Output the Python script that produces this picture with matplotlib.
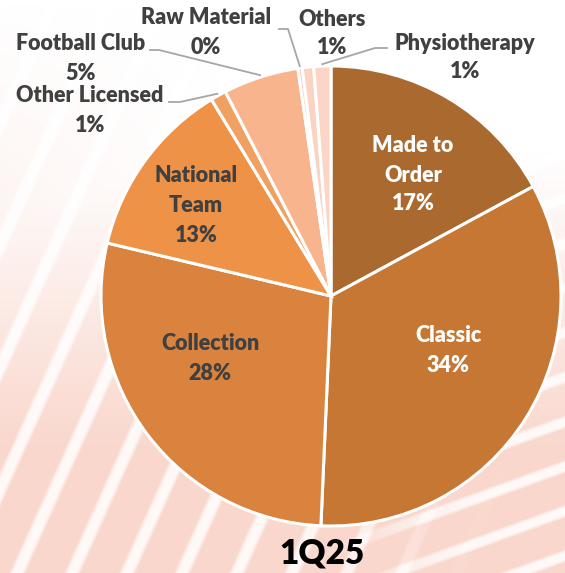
import numpy as np
import matplotlib
matplotlib.use("Agg")
import matplotlib.pyplot as plt
from matplotlib.colors import to_rgb

categories = [
    "Made to Order",
    "Classic",
    "Collection",
    "National Team",
    "Other Licensed",
    "Football Club",
    "Raw Material",
    "Others",
    "Physiotherapy",
]
shares = [17.1, 33.6, 28.0, 12.6, 1.1, 5.3, 0.3, 0.8, 1.2]
colors = [
    "#A9692F",
    "#C57733",
    "#D9833E",
    "#EE9247",
    "#F0A060",
    "#F8B48D",
    "#FACBB6",
    "#FBD3C3",
    "#FBD5C6",
]
period_label = "1Q25"

W, H = 565, 573


def py(y):
    # pixel row from the top -> data y
    return H - y


fig = plt.figure(figsize=(W / 100, H / 100), dpi=100)
ax = fig.add_axes([0, 0, 1, 1])

# faint striped background
yy, xx = np.mgrid[0:H, 0:W].astype(float)
tint = np.clip((yy - 150) / 300, 0, 1) * 0.8
tint = np.maximum(tint, np.clip((230 - xx) / 230, 0, 1) * np.clip(yy / 350, 0, 1) * 0.35)
steep = np.clip((np.cos(2 * np.pi * (0.91 * xx + 0.41 * yy) / 50) - 0.55) / 0.35, 0, 1)
shallow = np.clip((np.cos(2 * np.pi * (0.34 * xx + 0.94 * yy) / 42) - 0.55) / 0.35, 0, 1)
mix = 1 / (1 + np.exp(-(xx - 390) / 30))
stripe = mix * shallow + (1 - mix) * steep
alpha = tint * (1 - 0.85 * stripe)
bg = np.zeros((H, W, 4))
bg[..., :3] = to_rgb("#F8CDC0")
bg[..., 3] = alpha
ax.imshow(bg, extent=(0, W, 0, H), origin="upper", zorder=0, interpolation="bilinear")

cx, cy, r = 331, py(296), 230
wedges, _ = ax.pie(
    shares,
    colors=colors,
    startangle=90,
    counterclock=False,
    center=(cx, cy),
    radius=r,
    wedgeprops=dict(edgecolor="white", linewidth=2.2),
    frame=True,
)
ax.set_xlim(0, W)
ax.set_ylim(0, H)
ax.set_aspect("equal")
ax.axis("off")

pct = [round(100 * s / sum(shares)) for s in shares]
font = dict(family=["Lato", "DejaVu Sans"], fontweight="heavy", fontsize=15.5)
dark = "#404040"

# labels inside the big slices
inside = {
    "Made to Order": (413, [145, 175, 204], ["Made to", "Order"], "white"),
    "Classic": (448, [335, 365], ["Classic"], "white"),
    "Collection": (210, [343, 373], ["Collection"], dark),
    "National Team": (196, [175, 205, 235], ["National", "Team"], dark),
}
for name, (x, ys, lines, col) in inside.items():
    i = categories.index(name)
    for y, t in zip(ys, lines + [f"{pct[i]}%"]):
        ax.text(x, py(y), t, ha="center", va="center", color=col, **font)

# labels outside with leader lines: (text x, name y, pct y, line points)
outside = {
    "Physiotherapy": (465, 43, 72, [(387, 48), (375, 48)]),
    "Others": (332, 20, 48, []),
    "Raw Material": (206, 18, 47, [(279, 29), (288, 29)]),
    "Football Club": (81, 43, 73, [(150, 50), (159, 50)]),
    "Other Licensed": (90, 95, 125, [(169, 102), (180, 102)]),
}
for name, (x, y1, y2, pts) in outside.items():
    i = categories.index(name)
    ax.text(x, py(y1), name, ha="center", va="center", color=dark, **font)
    ax.text(x, py(y2), f"{pct[i]}%", ha="center", va="center", color=dark, **font)
    if pts:
        w = wedges[i]
        mid = np.deg2rad((w.theta1 + w.theta2) / 2)
        ex = cx + (r + 2) * np.cos(mid)
        ey = cy + (r + 2) * np.sin(mid)
        xs = [p[0] for p in pts] + [ex]
        ys = [py(p[1]) for p in pts] + [ey]
        ax.plot(xs, ys, color="#A6A6A6", linewidth=1.3, zorder=5)

ax.text(322, py(553), period_label, ha="center", va="center", color="black",
        family=["Lato", "DejaVu Sans"], fontweight="heavy", fontsize=24)

fig.savefig("out.png", dpi=100)
plt.close(fig)
